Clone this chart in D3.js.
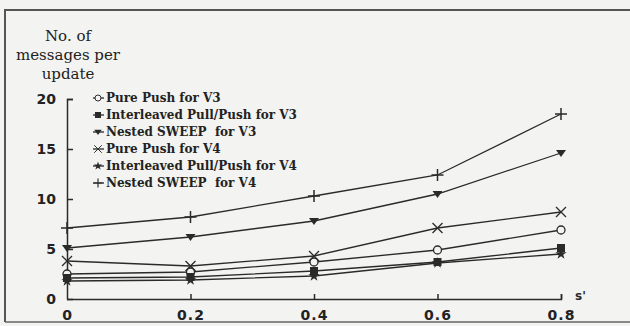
<!DOCTYPE html>
<html>
<head>
<meta charset="utf-8">
<script src="https://cdn.jsdelivr.net/npm/d3@7/dist/d3.min.js"></script>
<style>
  body { margin: 0; background: #f3f3f1; }
  svg { display: block; }
  .tick text { font-family: "DejaVu Sans", sans-serif; font-weight: bold; font-size: 14px; fill: #222; }
</style>
</head>
<body>
<script>
// values
var xValues = [0, 0.2, 0.4, 0.6, 0.8];
var yTicks = [0, 5, 10, 15, 20];
var xTicks = [0, 0.2, 0.4, 0.6, 0.8];

var seriesNames = [
  "Pure Push for V3",
  "Interleaved Pull/Push for V3",
  "Nested SWEEP  for V3",
  "Pure Push for V4",
  "Interleaved Pull/Push for V4",
  "Nested SWEEP  for V4"
];
var purePushV3 = [2.5, 2.7, 3.7, 4.9, 6.9];
var interleavedV3 = [2.1, 2.2, 2.8, 3.7, 5.1];
var nestedV3 = [5.1, 6.2, 7.8, 10.5, 14.6];
var purePushV4 = [3.8, 3.3, 4.3, 7.1, 8.7];
var interleavedV4 = [1.8, 1.9, 2.3, 3.6, 4.5];
var nestedV4 = [7.1, 8.2, 10.3, 12.4, 18.5];
var markers = ["circle", "square", "tri", "x", "star", "plus"];

var allSeries = [purePushV3, interleavedV3, nestedV3, purePushV4, interleavedV4, nestedV4];

var width = 630, height = 326;

var svg = d3.select('body').append('svg')
  .attr('width', width)
  .attr('height', height);

// scanned frame
svg.append('path')
  .attr('d', 'M5,322 L5,10 L630,10')
  .attr('fill', 'none')
  .attr('stroke', '#555')
  .attr('stroke-width', 2);
svg.append('line')
  .attr('x1', 5).attr('x2', 630).attr('y1', 322).attr('y2', 322)
  .attr('stroke', '#666').attr('stroke-width', 1.5);

var x = d3.scaleLinear().domain([0, 0.8]).range([67, 561]);
var y = d3.scaleLinear().domain([0, 20]).range([299, 99]);

var ink = '#2a2a2a';

// y axis, ticks pointing inward
var yAxis = svg.append('g')
  .attr('transform', 'translate(67,0)')
  .call(d3.axisRight(y).tickValues(yTicks).tickSize(6).tickFormat(d3.format('d')));
yAxis.select('.domain').attr('d', 'M6,99.5H0.5V299.5').attr('stroke', ink).attr('stroke-width', 1.5);
yAxis.selectAll('.tick line').attr('stroke', ink).attr('stroke-width', 1.5);
yAxis.selectAll('.tick text').attr('x', -11).attr('text-anchor', 'end');

// x axis, ticks pointing up
var xAxis = svg.append('g')
  .attr('transform', 'translate(0,299)')
  .call(d3.axisTop(x).tickValues(xTicks).tickSize(5).tickFormat(function(d) { return d === 0 ? '0' : d3.format('.1f')(d); }));
xAxis.select('.domain').attr('d', 'M67,0.5H561.5V-5').attr('stroke', ink).attr('stroke-width', 1.5);
xAxis.selectAll('.tick line').attr('stroke', ink).attr('stroke-width', 1.5);
xAxis.selectAll('.tick line').filter(function(d) { return d === 0; }).remove();
xAxis.selectAll('.tick text').attr('y', 21).attr('dy', 0).style('letter-spacing', '1px');

svg.append('text')
  .attr('x', 575).attr('y', 300)
  .attr('font-family', 'DejaVu Sans, sans-serif')
  .attr('font-weight', 'bold')
  .attr('font-size', 12)
  .attr('fill', ink)
  .text("s'");

// y title
var titleLines = ["No. of", "messages per", "update"];
svg.append('g').selectAll('text')
  .data(titleLines)
  .enter()
  .append('text')
  .attr('x', 68)
  .attr('y', function(d, i) { return 41 + i * 19; })
  .attr('text-anchor', 'middle')
  .attr('font-family', 'DejaVu Serif, serif')
  .attr('font-size', 15)
  .attr('fill', '#222')
  .text(function(d) { return d; });

var drawMarker = function(g, type, cx, cy) {
  if (type === 'circle') {
    g.append('circle').attr('cx', cx).attr('cy', cy).attr('r', 4)
      .attr('fill', '#f3f3f1').attr('stroke', ink).attr('stroke-width', 1.3);
  } else if (type === 'square') {
    g.append('rect').attr('x', cx - 4).attr('y', cy - 4).attr('width', 8).attr('height', 8)
      .attr('fill', ink);
  } else if (type === 'tri') {
    g.append('path').attr('d', 'M' + (cx - 5) + ',' + (cy - 3) + 'L' + (cx + 5) + ',' + (cy - 3) + 'L' + cx + ',' + (cy + 4) + 'Z')
      .attr('fill', ink);
  } else if (type === 'x') {
    g.append('path').attr('d', 'M' + (cx - 5) + ',' + (cy - 5) + 'L' + (cx + 5) + ',' + (cy + 5) + 'M' + (cx - 5) + ',' + (cy + 5) + 'L' + (cx + 5) + ',' + (cy - 5))
      .attr('stroke', ink).attr('stroke-width', 1.3);
  } else if (type === 'star') {
    g.append('path').attr('d', d3.symbol().type(d3.symbolStar).size(40)())
      .attr('transform', 'translate(' + cx + ',' + cy + ')')
      .attr('fill', ink);
  } else {
    g.append('path').attr('d', 'M' + (cx - 6) + ',' + cy + 'L' + (cx + 6) + ',' + cy + 'M' + cx + ',' + (cy - 6) + 'L' + cx + ',' + (cy + 6))
      .attr('stroke', ink).attr('stroke-width', 1.5);
  }
};

var line = d3.line()
  .x(function(d, i) { return x(xValues[i]); })
  .y(function(d) { return y(d); });

allSeries.forEach(function(vals, s) {
  svg.append('path')
    .attr('d', line(vals))
    .attr('fill', 'none')
    .attr('stroke', ink)
    .attr('stroke-width', 1.3);
});
allSeries.forEach(function(vals, s) {
  var g = svg.append('g');
  vals.forEach(function(v, i) {
    drawMarker(g, markers[s], x(xValues[i]), y(v));
  });
});

// legend
var legend = svg.append('g');
seriesNames.forEach(function(name, i) {
  var ly = 98 + i * 17;
  legend.append('line')
    .attr('x1', 93).attr('x2', 104).attr('y1', ly).attr('y2', ly)
    .attr('stroke', ink).attr('stroke-width', 1.3);
  var g = legend.append('g').attr('transform', 'translate(' + 98 + ',' + ly + ') scale(0.75) translate(' + (-98) + ',' + (-ly) + ')');
  drawMarker(g, markers[i], 98, ly);
  legend.append('text')
    .attr('x', 106).attr('y', ly + 4)
    .attr('font-family', 'DejaVu Serif, serif')
    .attr('font-weight', 'bold')
    .attr('font-size', 12)
    .attr('fill', '#222')
    .style('white-space', 'pre')
    .text(name);
});
</script>
</body>
</html>
